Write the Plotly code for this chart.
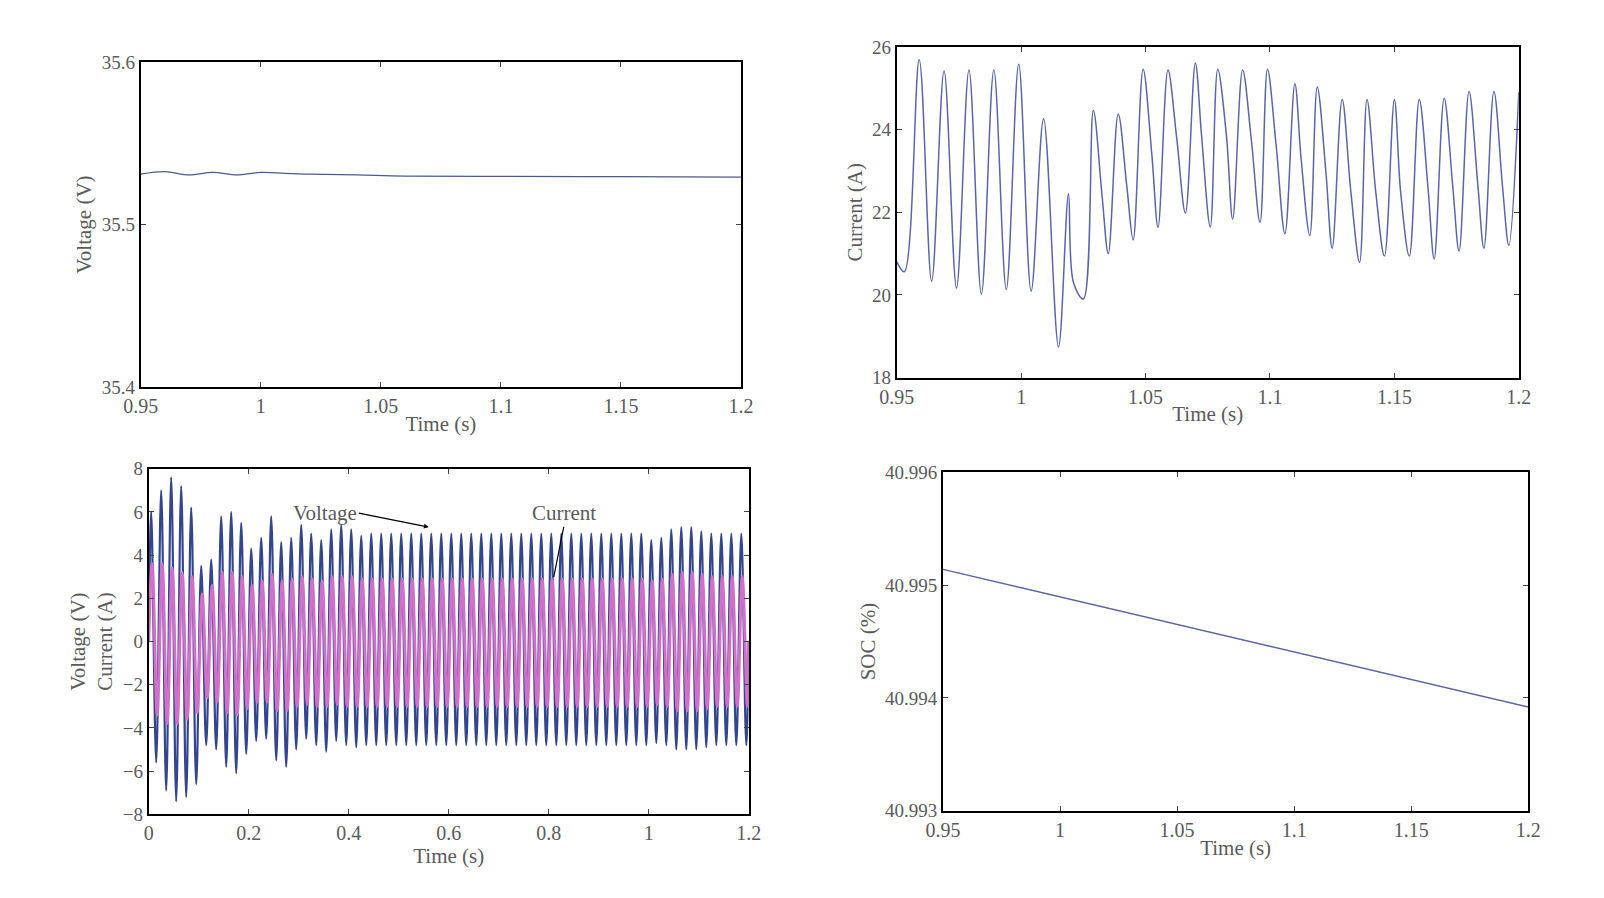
import numpy as np
import plotly.graph_objects as go

# ---- panel a: battery voltage (V) ----
volt_t = [0.95, 0.96, 0.97, 0.98, 0.99, 1.0, 1.01, 1.02, 1.04, 1.06, 1.1, 1.15, 1.2]
volt_v = [35.531, 35.5325, 35.5305, 35.532, 35.5305, 35.532, 35.5315, 35.531, 35.5305, 35.5298, 35.5296, 35.5294, 35.5292]

# ---- panel b: battery current (A), extrema ----
cur_peak_t = [0.959, 0.969, 0.979, 0.989, 0.999, 1.009, 1.019, 1.029, 1.039, 1.049, 1.059, 1.070,
              1.079, 1.089, 1.099, 1.110, 1.119, 1.129, 1.139, 1.150, 1.160, 1.170, 1.180, 1.190, 1.2]
cur_peak_v = [25.69, 25.42, 25.44, 25.44, 25.58, 24.26, 22.45, 24.46, 24.38, 25.46, 25.44, 25.61,
              25.46, 25.44, 25.46, 25.11, 25.03, 24.73, 24.73, 24.73, 24.73, 24.76, 24.92, 24.92, 24.9]
cur_shoulder_t = [1.0325, 1.0425, 1.0525, 1.0625, 1.0725, 1.0825, 1.0925, 1.1025, 1.1125, 1.1225,
                  1.1325, 1.1425, 1.1525, 1.1635, 1.1735, 1.1835, 1.1935]
cur_shoulder_v = [22.4, 22.6, 23.4, 23.8, 23.85, 23.85, 23.75, 23.6, 23.3, 22.95,
                  22.5, 22.5, 22.5, 22.6, 22.6, 22.7, 22.6]
cur_trough_t = [0.950, 0.953, 0.964, 0.974, 0.984, 0.994, 1.004, 1.015, 1.021, 1.025, 1.035, 1.045, 1.055,
                1.066, 1.076, 1.085, 1.096, 1.106, 1.116, 1.125, 1.136, 1.146, 1.156, 1.166,
                1.176, 1.186, 1.196]
cur_trough_v = [20.8, 20.56, 20.33, 20.17, 20.02, 20.13, 20.09, 18.74, 20.3, 19.9, 21.0, 21.33, 21.64,
                21.98, 21.64, 21.83, 21.75, 21.48, 21.44, 21.13, 20.79, 20.94, 20.94, 20.87,
                21.06, 21.13, 21.2]

# ---- panel c: AC side voltage and current, amplitude per 50 Hz cycle ----
period = 0.02
volt_pos = [6.0, 7.0, 7.6, 7.2, 6.2, 3.5, 3.8, 5.8, 6.0, 5.5, 4.3, 4.8, 5.8, 4.6, 4.8, 5.4, 5.0, 4.7, 5.2, 5.4,
            5.2, 4.9, 5.0, 5.0, 5.0, 5.0, 5.0, 5.0, 5.0, 5.0, 5.0, 5.0, 5.0, 5.0, 5.0, 5.0, 5.0, 5.0, 5.0, 5.0,
            5.0, 5.0, 5.0, 5.0, 5.0, 5.0, 5.0, 5.0, 5.0, 5.0, 4.7, 4.8, 5.2, 5.3, 5.3, 5.1, 5.0, 5.0, 5.0, 5.0]
volt_neg = [-5.6, -6.9, -7.4, -7.2, -6.6, -4.8, -5.0, -5.8, -6.1, -5.2, -4.6, -4.5, -5.5, -5.8, -5.0, -4.5, -4.8, -5.1, -4.6, -4.8,
            -4.9, -4.8, -4.8, -4.8, -4.8, -4.8, -4.8, -4.8, -4.8, -4.8, -4.8, -4.8, -4.8, -4.8, -4.8, -4.8, -4.8, -4.8, -4.8, -4.8,
            -4.8, -4.8, -4.8, -4.8, -4.8, -4.8, -4.8, -4.8, -4.8, -4.8, -4.7, -4.8, -5.0, -5.0, -5.0, -4.9, -4.8, -4.8, -4.8, -4.8]
cur_pos = [3.6, 3.6, 3.4, 3.2, 3.0, 2.2, 2.6, 3.2, 3.2, 3.0, 2.6, 2.8, 3.1, 2.8, 2.9, 3.0, 2.9, 2.8, 3.0, 3.0,
           3.0, 2.9, 2.9, 2.9, 2.9, 2.9, 2.9, 2.9, 2.9, 2.9, 2.9, 2.9, 2.9, 2.9, 2.9, 2.9, 2.9, 2.9, 2.9, 2.9,
           2.9, 2.9, 2.9, 2.9, 2.9, 2.9, 2.9, 2.9, 2.9, 2.9, 2.8, 2.9, 3.1, 3.2, 3.2, 3.1, 3.0, 3.0, 3.0, 3.0]
cur_neg = [-3.4, -3.8, -3.8, -3.6, -3.3, -2.6, -2.8, -3.3, -3.4, -3.1, -2.8, -2.8, -3.2, -3.2, -3.0, -2.9, -3.0, -3.0, -2.9, -3.0,
           -3.0, -3.0, -3.0, -3.0, -3.0, -3.0, -3.0, -3.0, -3.0, -3.0, -3.0, -3.0, -3.0, -3.0, -3.0, -3.0, -3.0, -3.0, -3.0, -3.0,
           -3.0, -3.0, -3.0, -3.0, -3.0, -3.0, -3.0, -3.0, -3.0, -3.0, -2.9, -3.0, -3.2, -3.2, -3.2, -3.1, -3.0, -3.0, -3.0, -3.0]

# ---- panel d: state of charge (%) ----
soc_t = [0.95, 1.2]
soc_v = [40.99514, 40.99392]


def merge(*pairs):
    t = np.concatenate([np.asarray(p[0], float) for p in pairs])
    v = np.concatenate([np.asarray(p[1], float) for p in pairs])
    order = np.argsort(t, kind="stable")
    return t[order], v[order]


def alternating(pos, neg, phase=0.0):
    k = np.arange(len(pos))
    tp = (k + 0.25) * period + phase
    tn = (k + 0.75) * period + phase
    return merge(([0.0], [0.0]), (tp, pos), (tn, neg), ([1.2], [0.0]))


cur_t, cur_v = merge((cur_peak_t, cur_peak_v), (cur_shoulder_t, cur_shoulder_v), (cur_trough_t, cur_trough_v))
acv_t, acv_v = alternating(volt_pos, volt_neg)
aci_t, aci_v = alternating(cur_pos, cur_neg, phase=0.002)

FONT = "Liberation Serif"
GREY = "rgb(90,90,90)"

fig = go.Figure()
fig.add_trace(go.Scatter(x=volt_t, y=volt_v, mode="lines", line=dict(color="#4a5a90", width=1.2, shape="spline"),
                         xaxis="x", yaxis="y"))
fig.add_trace(go.Scatter(x=cur_t, y=cur_v, mode="lines", line=dict(color="#5a64b0", width=1.5, shape="spline"),
                         xaxis="x2", yaxis="y2"))
fig.add_trace(go.Scatter(x=acv_t, y=acv_v, mode="lines", line=dict(color="#34458f", width=2.2, shape="spline"),
                         xaxis="x3", yaxis="y3"))
fig.add_trace(go.Scatter(x=aci_t, y=aci_v, mode="lines", line=dict(color="#d070c8", width=3, shape="spline"),
                         xaxis="x3", yaxis="y3"))
fig.add_trace(go.Scatter(x=soc_t, y=soc_v, mode="lines", line=dict(color="#5a64a0", width=1.3),
                         xaxis="x4", yaxis="y4"))


def xax(domain, anchor, rng, dtick, fmt=None):
    d = dict(domain=domain, anchor=anchor, range=rng, dtick=dtick, tick0=rng[0], showgrid=False, zeroline=False,
             showline=True, mirror="ticks", linecolor="black", linewidth=2, ticks="inside", ticklen=5,
             tickfont=dict(family=FONT, size=20, color=GREY),
             title=dict(text="Time (s)", font=dict(family=FONT, size=21, color=GREY), standoff=0))
    if fmt:
        d["tickformat"] = fmt
    return d


def yax(domain, anchor, rng, dtick, title, fmt=None):
    d = dict(domain=domain, anchor=anchor, range=rng, dtick=dtick, tick0=rng[0], showgrid=False, zeroline=False,
             showline=True, mirror="ticks", linecolor="black", linewidth=2, ticks="inside", ticklen=5,
             tickfont=dict(family=FONT, size=19, color=GREY),
             title=dict(text=title, font=dict(family=FONT, size=21, color=GREY), standoff=4))
    if fmt:
        d["tickformat"] = fmt
    return d


fig.update_layout(
    width=1604, height=898, showlegend=False, plot_bgcolor="white", paper_bgcolor="white",
    margin=dict(l=0, r=0, t=0, b=0),
    xaxis=xax([0.073, 0.4545], "y", [0.95, 1.2], 0.05),
    yaxis=yax([0.579, 0.95], "x", [35.4, 35.6], 0.1, "Voltage (V)"),
    xaxis2=xax([0.5536, 0.949], "y2", [0.95, 1.2], 0.05),
    yaxis2=yax([0.590, 0.967], "x2", [18, 26], 2, "Current (A)"),
    xaxis3=xax([0.078, 0.4595], "y3", [0, 1.2], 0.2),
    yaxis3=yax([0.092, 0.486], "x3", [-8, 8], 2, "Voltage (V)<br>Current (A)"),
    xaxis4=xax([0.583, 0.955], "y4", [0.95, 1.2], 0.05),
    yaxis4=yax([0.096, 0.482], "x4", [40.993, 40.996], 0.001, "SOC (%)", fmt=".3f"),
    annotations=[
        dict(xref="x3", yref="y3", x=0.56, y=5.3, ax=-70, ay=-14, text="Voltage", showarrow=True,
             arrowhead=2, arrowsize=0.8, arrowwidth=1.2, arrowcolor="black", xanchor="right",
             font=dict(family=FONT, size=21, color=GREY)),
        dict(xref="x3", yref="y3", x=0.81, y=3.0, ax=10, ay=-50, text="Current", showarrow=True,
             arrowhead=0, arrowwidth=1.2, arrowcolor="black", yanchor="bottom",
             font=dict(family=FONT, size=21, color=GREY)),
    ],
)

fig.write_html("out.html")
